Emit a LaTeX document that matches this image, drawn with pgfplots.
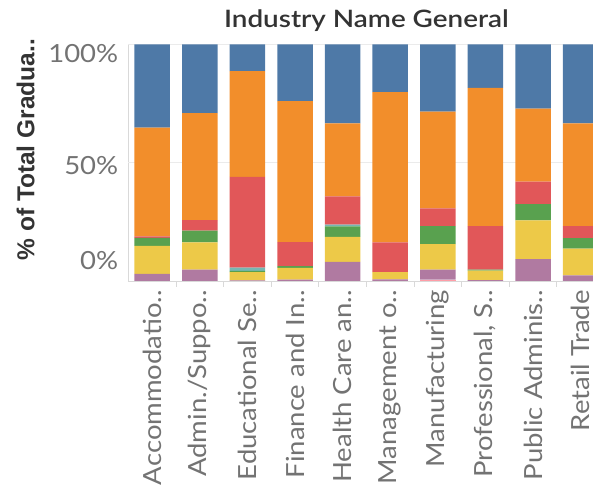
\documentclass[border=0pt]{standalone}
\usepackage{fontspec}
\setmainfont{Lato}
\newfontfamily\tickfont{Lato}[FakeStretch=1.1]
\IfFontExistsTF{Lato Semibold}{\newfontfamily\titlefont{Lato Semibold}[FakeStretch=1.16]}{\newfontfamily\titlefontbase{Lato}[FakeStretch=1.13]\newcommand\titlefont{\titlefontbase\bfseries}}
\newfontfamily\ylabfont{Liberation Sans}
\usepackage{pgfplots}
\pgfplotsset{compat=1.18}
\definecolor{tBlue}{HTML}{4E79A7}
\definecolor{tOrange}{HTML}{F28E2B}
\definecolor{tRed}{HTML}{E15759}
\definecolor{tTeal}{HTML}{76B7B2}
\definecolor{tGreen}{HTML}{59A14F}
\definecolor{tYellow}{HTML}{EDC948}
\definecolor{tPurple}{HTML}{B07AA1}
\definecolor{tPink}{HTML}{FF9DA7}
\definecolor{lineGray}{HTML}{D9D9D9}
\definecolor{gridGray}{HTML}{EBEBEB}
\definecolor{tickText}{HTML}{737373}
\definecolor{titleText}{HTML}{333333}
\begin{document}
\begin{tikzpicture}[x=1bp,y=1bp]
\path[use as bounding box] (0,0) rectangle (593,489);
\begin{axis}[
  at={(128.4bp,208bp)}, anchor=south west,
  scale only axis, width=476bp, height=236.5bp,
  xmin=-0.5, xmax=9.5, ymin=0, ymax=100,
  ybar stacked, bar width=35.5bp,
  axis x line*=bottom, axis y line*=left,
  axis line style={draw=lineGray, line width=0.8bp, -},
  xtick={0,...,9},
  xticklabels={Accommodatio..,Admin./Suppo..,Educational Se..,Finance and In..,Health Care an..,Management o..,Manufacturing,{Professional, S..},Public Adminis..,Retail Trade},
  ytick={8.5,49,96.2}, yticklabels={0\%,50\%,100\%},
  major tick length=0pt,
  extra y ticks={50,100}, extra y tick labels={},
  extra y tick style={grid=major, major grid style={draw=gridGray, line width=0.8bp}},
  extra x ticks={0.5,1.5,...,8.5}, extra x tick labels={},
  extra x tick style={major tick length=6bp, tick align=outside, tick style={draw=lineGray, line width=0.8bp}},
  xticklabel style={rotate=90, anchor=east, inner sep=0pt, inner xsep=9bp, text=tickText, font=\tickfont\fontsize{25bp}{30bp}\selectfont},
  yticklabel style={anchor=east, inner sep=0pt, inner xsep=10bp, text=tickText, font=\tickfont\fontsize{25bp}{30bp}\selectfont},
  title={Industry Name General},
  title style={at={(axis description cs:0.5,1.077)}, anchor=center, text=titleText, font=\titlefont\fontsize{24bp}{28bp}\selectfont},
  ylabel={\% of Total Gradua..},
  every axis y label/.style={at={(axis description cs:-0.216,0.555)}, rotate=90, anchor=center, text=titleText, font=\ylabfont\bfseries\fontsize{24.5bp}{28bp}\selectfont},
]
\addplot[fill=tPink, draw=none] coordinates {(0,0) (1,0) (2,0) (3,0) (4,0) (5,0) (6,0.6) (7,0) (8,0) (9,0)};
\addplot[fill=tPurple, draw=none] coordinates {(0,3.0) (1,4.8) (2,0.3) (3,0.6) (4,8.1) (5,0.7) (6,4.2) (7,0.4) (8,9.2) (9,2.4)};
\addplot[fill=tYellow, draw=none] coordinates {(0,11.9) (1,11.5) (2,3.4) (3,5.0) (4,10.6) (5,3.0) (6,10.8) (7,4.0) (8,16.4) (9,11.3)};
\addplot[fill=tGreen, draw=none] coordinates {(0,3.3) (1,5.0) (2,0.6) (3,0.7) (4,4.4) (5,0) (6,7.6) (7,0.4) (8,6.9) (9,4.4)};
\addplot[fill=tTeal, draw=none] coordinates {(0,0) (1,0) (2,1.4) (3,0) (4,0.7) (5,0) (6,0) (7,0) (8,0) (9,0)};
\addplot[fill=tRed, draw=none] coordinates {(0,0.7) (1,4.4) (2,38.3) (3,10.1) (4,12.0) (5,12.6) (6,7.5) (7,18.4) (8,9.5) (9,5.1)};
\addplot[fill=tOrange, draw=none] coordinates {(0,45.9) (1,45.3) (2,44.7) (3,59.7) (4,30.8) (5,63.6) (6,40.9) (7,58.5) (8,30.9) (9,43.4)};
\addplot[fill=tBlue, draw=none] coordinates {(0,35.2) (1,29.0) (2,11.3) (3,23.9) (4,33.4) (5,20.1) (6,28.4) (7,18.3) (8,27.1) (9,33.4)};
\end{axis}
\end{tikzpicture}
\end{document}
